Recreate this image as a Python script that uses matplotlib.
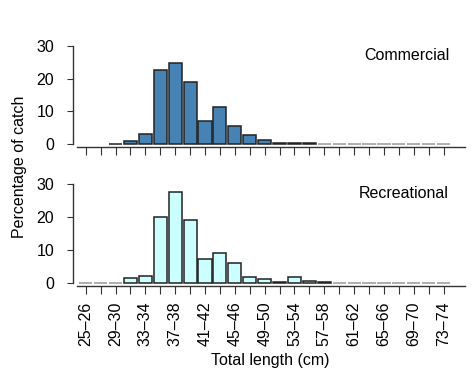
import matplotlib.pyplot as plt
import numpy as np

plt.rcParams['font.family'] = ['Liberation Sans', 'DejaVu Sans']
plt.rcParams['font.size'] = 11.5

# length classes (2 cm bins)
lower = list(range(25, 75, 2))
classes = ['%d\u2013%d' % (lo, lo + 1) for lo in lower]

# percentage of catch
commercial = [np.nan, np.nan, 0.1, 0.9, 3.1, 22.8, 24.8, 18.9, 7.1, 11.3, 5.6, 2.9, 1.3,
              0.3, 0.3, 0.3, 0, 0, 0, 0, 0, 0, 0, 0, 0]
recreational = [0, 0, 0, 1.4, 2.0, 20.1, 27.6, 19.1, 7.2, 9.2, 6.2, 1.9, 1.1,
                0.2, 1.8, 0.6, 0.2, 0, 0, 0, 0, 0, 0, 0, 0]

fig = plt.figure(figsize=(4.74, 3.72), dpi=100)
W, H = 474.0, 372.0

panels = [
    (commercial, '#4682B4', 'Commercial', 147, 46),
    (recreational, '#CCFFFF', 'Recreational', 286, 184.3),
]

x = np.arange(len(classes))
for i, (vals, col, name, ybot, ytop) in enumerate(panels):
    ax = fig.add_axes([73 / W, 1 - ybot / H, 393 / W, (ybot - ytop) / H])
    vals = np.array(vals, dtype=float)
    edges = ['#999999' if v == 0 else '#222222' for v in vals]
    ax.bar(x, vals, width=0.88, color=col, edgecolor=edges, linewidth=1.1)
    ax.set_xlim(-0.85, 25.5)
    ax.set_ylim(-0.9, 30)
    for s in ['top', 'right']:
        ax.spines[s].set_visible(False)
    ax.spines['left'].set_bounds(0, 30)
    ax.spines['bottom'].set_bounds(-0.58, 25.45)
    for s in ['left', 'bottom']:
        ax.spines[s].set_color('#333333')
        ax.spines[s].set_linewidth(1.0)
    ax.set_yticks([0, 10, 20, 30])
    ax.tick_params(axis='y', length=4.5, pad=9, color='#333333', labelsize=11.5)
    ax.set_xticks(x)
    ax.tick_params(axis='x', length=6, pad=5, color='#333333', labelsize=11.5)
    if i == 1:
        ax.set_xticklabels([c if k % 2 == 0 else '' for k, c in enumerate(classes)],
                           rotation=90)
    else:
        ax.set_xticklabels([])
    ax.text(0.957, 0.91, name, transform=ax.transAxes, ha='right', va='center',
            fontsize=11.5)

fig.text(20 / W, 1 - 167 / H, 'Percentage of catch', rotation=90,
         ha='center', va='center', fontsize=11.5)
fig.text(270 / W, 1 - 360 / H, 'Total length (cm)', ha='center', va='center',
         fontsize=11.5)

fig.savefig('out.png', dpi=100)
